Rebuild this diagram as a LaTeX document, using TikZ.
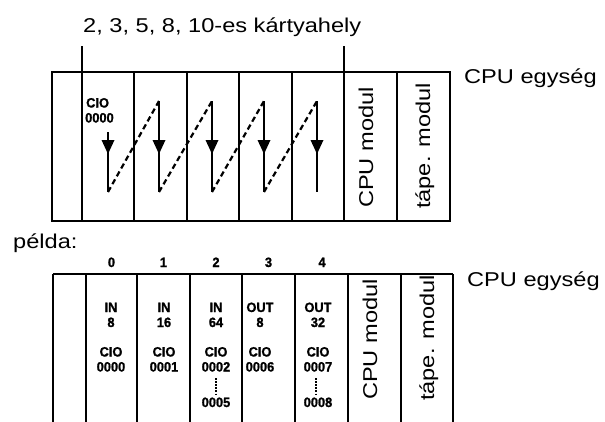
\documentclass[tikz,border=0pt]{standalone}
\usepackage{fontspec}
\newfontfamily\labfont[FakeStretch=1.18]{Liberation Sans}
\newfontfamily\bldfont[FakeStretch=0.95,FakeBold=1.2]{Liberation Sans}
\begin{document}
\begin{tikzpicture}[x=1pt,y=-1pt,
  rack/.style={line width=2.8pt},
  lbl/.style={font=\labfont\fontsize{20}{24}\selectfont, inner sep=0pt},
  sm/.style={font=\bldfont\bfseries\fontsize{13.5}{16}\selectfont, inner sep=0pt, anchor=base},
  rot/.style={lbl, rotate=90, anchor=base west},
  flow/.style={line width=2.2pt},
  dashflow/.style={line width=2.2pt, dash pattern=on 5.5pt off 3.5pt},
  dotsv/.style={line width=1.6pt, dash pattern=on 1.5pt off 1.6pt},
]
\useasboundingbox (0,0) rectangle (605,421);
\clip (0,0) rectangle (605,421);

% ---------- title
\node[lbl, anchor=base west] (title) at (83,32) {2, 3, 5, 8, 10-es kártyahely};

% ---------- top rack
\draw[rack] (52,72) rectangle (450,221);
\foreach \x in {82,134,187,239,292,344,397} \draw[rack] (\x,72) -- (\x,221);
\draw[rack] (82,46) -- (82,72);
\draw[rack] (344,46) -- (344,72);

\node[lbl, anchor=base west] (cpu1) at (464,83) {CPU egység};
\node[rot] (cm1) at (373,208) {CPU modul};
\node[rot] (tm1) at (430,209) {tápe. modul};

\node[sm, anchor=base west] (cio1) at (86,107.5) {CIO};
\node[sm, anchor=base west] (adr1) at (85,122.5) {0000};

% arrows
\coordinate (t1) at (108,132); \coordinate (b1) at (108,192);
\coordinate (t2) at (159,101); \coordinate (b2) at (159,192);
\coordinate (t3) at (212,101); \coordinate (b3) at (212,192);
\coordinate (t4) at (264,101); \coordinate (b4) at (264,192);
\coordinate (t5) at (317,101); \coordinate (b5) at (317,192);
\foreach \i in {1,...,5} {
  \draw[flow] (t\i) -- (b\i);
  \fill ([xshift=-6.5pt,yshift=-140pt]t\i |- 0,0) -- ([xshift=6.5pt,yshift=-140pt]t\i |- 0,0) -- ([yshift=-154pt]t\i |- 0,0) -- cycle;
}
\draw[dashflow] (b1) -- (t2);
\draw[dashflow] (b2) -- (t3);
\draw[dashflow] (b3) -- (t4);
\draw[dashflow] (b4) -- (t5);

% ---------- example
\node[lbl, anchor=base west] (pelda) at (13,248) {példa:};

\draw[rack] (53,274) -- (453,274);
\foreach \x in {53,86,137,190,242,295,348,401,453} \draw[rack] (\x,274) -- (\x,425);

\node[lbl, anchor=base west] (cpu2) at (467,286) {CPU egység};
\node[rot] (cm2) at (377,400) {CPU modul};
\node[rot] (tm2) at (434,401) {tápe. modul};

% slot numbers
\node[sm] (n0) at (111.5,267) {0};
\node[sm] (n1) at (163.5,267) {1};
\node[sm] (n2) at (216,267) {2};
\node[sm] (n3) at (268.5,267) {3};
\node[sm] (n4) at (322,267) {4};

% slot 0
\node[sm] (k0a) at (111,312) {IN};
\node[sm] (k0b) at (111,327) {8};
\node[sm] (k0c) at (111,356.5) {CIO};
\node[sm] (k0d) at (111,371.5) {0000};
% slot 1
\node[sm] (k1a) at (164,312) {IN};
\node[sm] (k1b) at (164,327) {16};
\node[sm] (k1c) at (164,356.5) {CIO};
\node[sm] (k1d) at (164,371.5) {0001};
% slot 2
\node[sm] (k2a) at (216,312) {IN};
\node[sm] (k2b) at (216,327) {64};
\node[sm] (k2c) at (216,356.5) {CIO};
\node[sm] (k2d) at (216,371.5) {0002};
\node[sm] (k2e) at (216,407) {0005};
\coordinate (d2a) at (216,378); \coordinate (d2b) at (216,394);
\draw[dotsv] (d2a) -- (d2b);
% slot 3
\node[sm] (k3a) at (260,312) {OUT};
\node[sm] (k3b) at (260,327) {8};
\node[sm] (k3c) at (260,356.5) {CIO};
\node[sm] (k3d) at (260,371.5) {0006};
% slot 4
\node[sm] (k4a) at (318,312) {OUT};
\node[sm] (k4b) at (318,327) {32};
\node[sm] (k4c) at (318,356.5) {CIO};
\node[sm] (k4d) at (318,371.5) {0007};
\node[sm] (k4e) at (318,407) {0008};
\coordinate (d4a) at (316,378); \coordinate (d4b) at (316,394);
\draw[dotsv] (d4a) -- (d4b);
\end{tikzpicture}
\end{document}
